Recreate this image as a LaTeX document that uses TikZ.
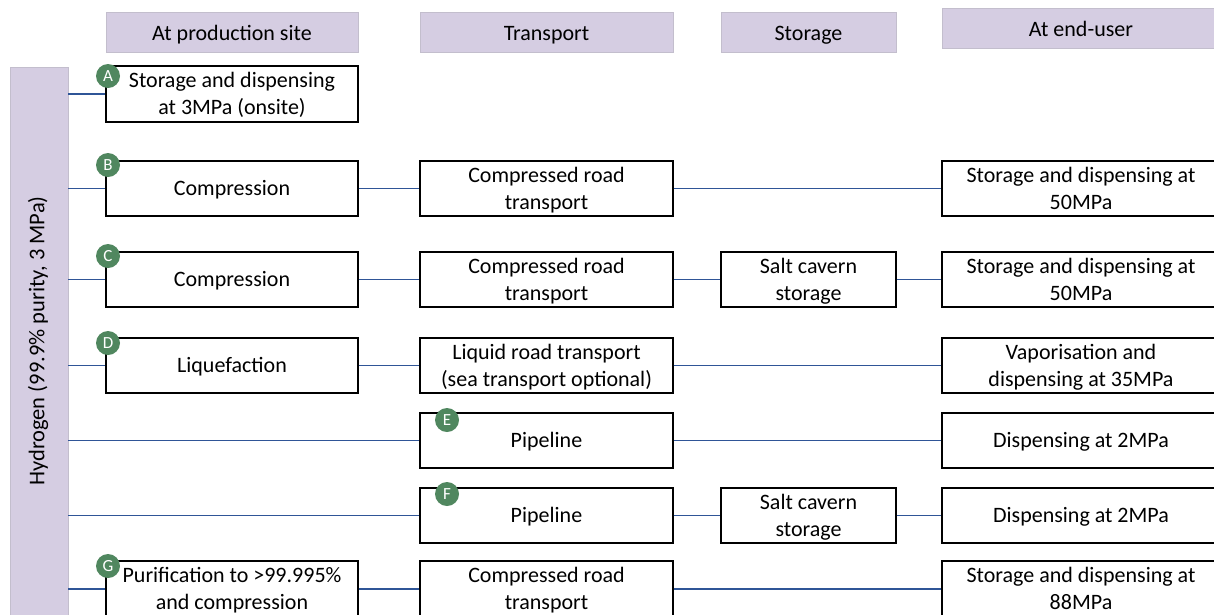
\documentclass[tikz,border=0pt]{standalone}
\usepackage{fontspec}
\setmainfont{Carlito}
\definecolor{hdr}{RGB}{213,205,226}
\definecolor{hdrline}{RGB}{195,190,205}
\definecolor{lnk}{RGB}{47,85,151}
\definecolor{badge}{RGB}{80,135,95}
\newcommand\Tx[2][-2pt]{\raisebox{#1}[\height][\depth]{\begin{tabular}{@{}c@{}}#2\end{tabular}}}
\begin{document}
\begin{tikzpicture}[x=1pt,y=-1pt,
  every node/.style={font=\fontsize{22}{27}\selectfont, inner sep=0pt},
  hbox/.style={fill=hdr, draw=hdrline, line width=0.6pt, minimum height=40},
  box/.style={draw=black, line width=1.3pt, fill=white, minimum height=55},
  prod/.style={box, minimum width=252},
  trans/.style={box, minimum width=253},
  stor/.style={box, minimum width=175},
  endu/.style={box, minimum width=278},
  link/.style={draw=lnk, line width=1.1pt},
  tag/.style={circle, fill=badge, minimum size=24, text=white, font=\fontsize{17}{17}\selectfont}]
\useasboundingbox (0,0) rectangle (1214,614);
\clip (0,0) rectangle (1214,614);
% headers
\node[hbox, minimum width=252] (h1) at (232,32) {\Tx[-3pt]{At production site}};
\node[hbox, minimum width=253] (h2) at (546.5,32) {\Tx[-3pt]{Transport}};
\node[hbox, minimum width=175] (h3) at (808.5,32) {\Tx[-3pt]{Storage}};
\node[hbox, minimum width=278] (h4) at (1081,28) {\Tx[-3pt]{At end-user}};
% left bar
\node[fill=hdr, draw=hdrline, line width=0.6pt, minimum width=58, minimum height=560] (bar) at (39,347) {};
\node[rotate=90, font=\fontsize{22.5}{27}\selectfont] (bartxt) at (38,341) {Hydrogen (99.9\% purity, 3 MPa)};
% row A
\node[prod, minimum height=56] (pA) at (232,94) {\Tx{Storage and dispensing\\at 3MPa (onsite)}};
% row B
\node[prod] (pB) at (232,188.5) {\Tx{Compression}};
\node[trans] (tB) at (546.5,188.5) {\Tx{Compressed road\\transport}};
\node[endu] (eB) at (1081,188.5) {\Tx{Storage and dispensing at\\50MPa}};
% row C
\node[prod] (pC) at (232,279.5) {\Tx{Compression}};
\node[trans] (tC) at (546.5,279.5) {\Tx{Compressed road\\transport}};
\node[stor] (sC) at (808.5,279.5) {\Tx{Salt cavern\\storage}};
\node[endu] (eC) at (1081,279.5) {\Tx{Storage and dispensing at\\50MPa}};
% row D
\node[prod] (pD) at (232,365.5) {\Tx{Liquefaction}};
\node[trans] (tD) at (546.5,365.5) {\Tx{Liquid road transport\\(sea transport optional)}};
\node[endu] (eD) at (1081,365.5) {\Tx{Vaporisation and\\dispensing at 35MPa}};
% row E
\node[trans] (tE) at (546.5,440.5) {\Tx{Pipeline}};
\node[endu] (eE) at (1081,440.5) {\Tx{Dispensing at 2MPa}};
% row F
\node[trans] (tF) at (546.5,515.5) {\Tx{Pipeline}};
\node[stor] (sF) at (808.5,515.5) {\Tx{Salt cavern\\storage}};
\node[endu] (eF) at (1081,515.5) {\Tx{Dispensing at 2MPa}};
% row G
\node[prod, minimum height=56] (pG) at (232,589) {\Tx{Purification to >99.995\%\\and compression}};
\node[trans, minimum height=56] (tG) at (546.5,589) {\Tx{Compressed road\\transport}};
\node[endu, minimum height=56] (eG) at (1081,589) {\Tx{Storage and dispensing at\\88MPa}};
% connectors
\draw[link] (bar.east |- pA.west) -- (pA.west);
\draw[link] (bar.east |- pB.west) -- (pB.west);
\draw[link] (pB.east) -- (tB.west);
\draw[link] (tB.east) -- (eB.west);
\draw[link] (bar.east |- pC.west) -- (pC.west);
\draw[link] (pC.east) -- (tC.west);
\draw[link] (tC.east) -- (sC.west);
\draw[link] (sC.east) -- (eC.west);
\draw[link] (bar.east |- pD.west) -- (pD.west);
\draw[link] (pD.east) -- (tD.west);
\draw[link] (tD.east) -- (eD.west);
\draw[link] (bar.east |- tE.west) -- (tE.west);
\draw[link] (tE.east) -- (eE.west);
\draw[link] (bar.east |- tF.west) -- (tF.west);
\draw[link] (tF.east) -- (sF.west);
\draw[link] (sF.east) -- (eF.west);
\draw[link] (bar.east |- pG.west) -- (pG.west);
\draw[link] (pG.east) -- (tG.west);
\draw[link] (tG.east) -- (eG.west);
% badges
\node[tag] (cA) at (108,76) {A};
\node[tag] (cB) at (108,165) {B};
\node[tag] (cC) at (108,256) {C};
\node[tag] (cD) at (108,343) {D};
\node[tag] (cE) at (447,420) {E};
\node[tag] (cF) at (447,494) {F};
\node[tag] (cG) at (108,566) {G};
\end{tikzpicture}
\end{document}
